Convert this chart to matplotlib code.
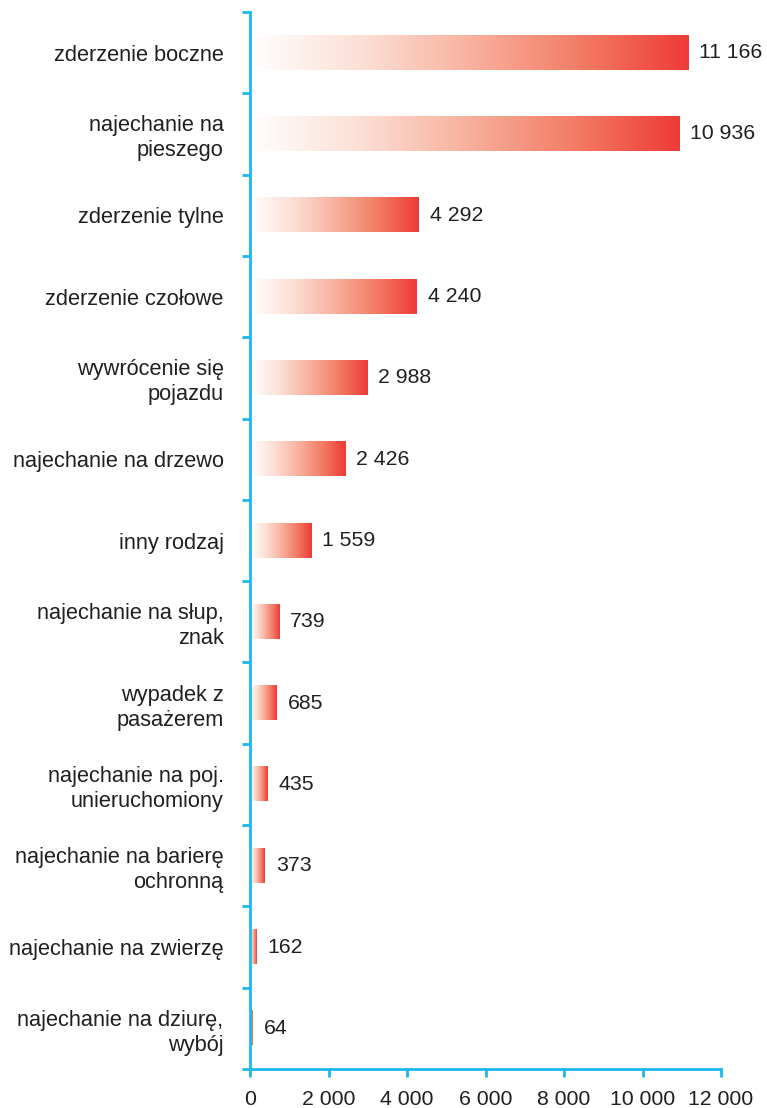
import matplotlib
matplotlib.use("Agg")
import matplotlib.pyplot as plt
import numpy as np
from matplotlib.colors import LinearSegmentedColormap

plt.rcParams['font.family'] = ['Liberation Sans', 'DejaVu Sans']

categories = [
    "zderzenie boczne",
    "najechanie na\npieszego",
    "zderzenie tylne",
    "zderzenie czołowe",
    "wywrócenie się\npojazdu",
    "najechanie na drzewo",
    "inny rodzaj",
    "najechanie na słup,\nznak",
    "wypadek z\npasażerem",
    "najechanie na poj.\nunieruchomiony",
    "najechanie na barierę\nochronną",
    "najechanie na zwierzę",
    "najechanie na dziurę,\nwybój",
]
values = [11166, 10936, 4292, 4240, 2988, 2426, 1559, 739, 685, 435, 373, 162, 64]
value_labels = ["11 166", "10 936", "4 292", "4 240", "2 988", "2 426", "1 559",
                "739", "685", "435", "373", "162", "64"]
xticks = [0, 2000, 4000, 6000, 8000, 10000, 12000]
xtick_labels = ["0", "2 000", "4 000", "6 000", "8 000", "10 000", "12 000"]

W, H = 767, 1108
fig = plt.figure(figsize=(W / 100, H / 100), dpi=100)
ax = fig.add_axes([250 / W, 1 - 1069 / H, (721 - 250) / W, (1069 - 12) / H])

axis_color = "#1CB9EC"
text_color = "#231F20"
cmap = LinearSegmentedColormap.from_list(
    "grad", [(0.0, "#FFFFFF"), (0.25, "#FCE0D6"), (0.5, "#F8B29F"),
             (0.75, "#F37D66"), (1.0, "#EE3B36")])

n = len(categories)
bar_h = 0.42
grad = np.linspace(0, 1, 256).reshape(1, -1)
for i, (v, lab) in enumerate(zip(values, value_labels)):
    y = i
    ax.imshow(grad, cmap=cmap, aspect="auto", interpolation="bilinear",
              extent=(0, v, y + bar_h / 2, y - bar_h / 2), zorder=2)
    ax.annotate(lab, xy=(v, y), xytext=(8, 0), textcoords="offset points",
                ha="left", va="center", fontsize=15.3, color=text_color)

ax.set_xlim(0, 12000)
ax.set_ylim(n - 0.5, -0.5)

ax.set_yticks(range(n))
ax.set_yticklabels(categories, fontsize=15.7, color=text_color, ha="right",
                   multialignment="right", linespacing=1.25)
ax.tick_params(axis="y", which="major", length=0, pad=19)
ax.set_yticks(np.arange(-0.5, n, 1.0), minor=True)
ax.tick_params(axis="y", which="minor", length=6, width=2, color=axis_color,
               direction="out")

ax.set_xticks(xticks)
ax.set_xticklabels(xtick_labels, fontsize=15.3, color=text_color)
ax.tick_params(axis="x", length=6, width=2, color=axis_color, pad=9,
               direction="out")

for s in ["top", "right"]:
    ax.spines[s].set_visible(False)
for s in ["left", "bottom"]:
    ax.spines[s].set_color(axis_color)
    ax.spines[s].set_linewidth(2)

fig.savefig("out.png", dpi=100, facecolor="white")
